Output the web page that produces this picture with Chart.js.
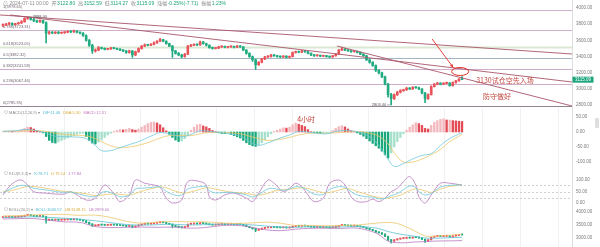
<!DOCTYPE html>
<html><head><meta charset="utf-8">
<script src="https://cdn.jsdelivr.net/npm/chart.js@4.4.1/dist/chart.umd.min.js"></script>
<style>
html,body{margin:0;padding:0;background:#fff;overflow:hidden}
#wrap{position:relative;width:600px;height:247px;background:#fff}
canvas{position:absolute;left:0}
#sb{position:absolute;left:595px;top:118px;width:4px;height:10px;background:#dedede;border-radius:1px}
</style></head><body>
<div id="wrap">
<canvas id="cMain" width="600" height="108" style="top:0px"></canvas>
<canvas id="cMacd" width="600" height="62" style="top:108px"></canvas>
<canvas id="cKdj" width="600" height="37" style="top:170px"></canvas>
<canvas id="cBoll" width="600" height="40" style="top:207px"></canvas>
<div id="sb"></div>
</div>
<script>
// ---------------- DATA ----------------
const openP = [3785,3790,3800,3810,3795,3805,3815,3830,3870,3880,
3860,3840,3830,3845,3820,3690,3700,3690,3700,3690,
3695,3700,3710,3705,3715,3700,3690,3660,3600,3540,
3470,3480,3510,3500,3490,3495,3505,3500,3490,3480,
3470,3450,3470,3420,3460,3500,3530,3545,3540,3550,
3570,3590,3610,3590,3560,3530,3470,3440,3420,3400,
3430,3530,3540,3550,3545,3580,3560,3540,3510,3500,
3505,3520,3525,3515,3520,3525,3515,3530,3520,3480,
3440,3400,3360,3300,3330,3370,3395,3400,3420,3410,
3400,3395,3405,3390,3400,3450,3460,3455,3470,3460,
3440,3420,3410,3415,3405,3410,3400,3395,3410,3430,
3480,3495,3480,3470,3460,3465,3450,3430,3410,3360,
3330,3290,3230,3200,3150,3060,2930,2880,2930,2960,
2980,2990,3010,3000,3020,3015,3000,2950,2880,2930,
3030,3060,3070,3060,3070,3075,3040,3080,3100,3122.80];
const highP = [3805,3812,3822,3818,3812,3825,3845,3880,3888,3884,
3870,3850,3855,3852,3828,3712,3710,3708,3710,3702,
3708,3720,3718,3728,3722,3706,3698,3668,3612,3552,
3495,3525,3518,3508,3502,3515,3512,3506,3498,3488,
3478,3480,3476,3468,3508,3538,3556,3550,3560,3582,
3598,3625,3615,3596,3566,3538,3478,3452,3430,3440,
3540,3552,3558,3556,3592,3588,3566,3546,3518,3512,
3528,3532,3530,3526,3534,3530,3538,3535,3524,3486,
3448,3408,3368,3338,3378,3402,3412,3428,3425,3416,
3408,3412,3412,3408,3458,3468,3466,3478,3476,3465,
3446,3428,3422,3420,3416,3415,3406,3416,3436,3490,
3512,3500,3486,3476,3472,3470,3456,3436,3416,3368,
3338,3298,3240,3210,3160,3070,2945,2940,2972,2992,
2998,3022,3018,3030,3028,3022,3006,2958,2940,3040,
3068,3082,3078,3078,3085,3080,3088,3108,3130,3152.59];
const lowP = [3770,3782,3792,3785,3786,3798,3808,3825,3860,3850,
3830,3818,3822,3810,3570,3675,3682,3682,3680,3684,
3686,3694,3695,3698,3692,3680,3650,3590,3525,3440,
3455,3472,3492,3482,3484,3488,3494,3484,3472,3460,
3440,3442,3390,3410,3452,3492,3522,3532,3534,3544,
3562,3584,3582,3552,3522,3390,3430,3410,3385,3392,
3425,3522,3534,3536,3538,3552,3530,3502,3492,3494,
3498,3512,3508,3508,3514,3506,3510,3512,3472,3430,
3390,3340,3240,3290,3322,3362,3386,3392,3402,3392,
3386,3388,3382,3384,3395,3442,3446,3448,3452,3432,
3412,3402,3404,3398,3398,3392,3386,3390,3404,3425,
3472,3474,3464,3452,3455,3444,3424,3402,3350,3318,
3280,3215,3185,3140,3050,2900,2803.40,2870,2918,2950,
2970,2982,2992,2994,3008,2992,2940,2830,2870,2925,
3024,3052,3050,3055,3062,3035,3036,3072,3095,3114.27];
const closeP = [3790,3800,3810,3795,3805,3815,3830,3870,3880,3860,
3840,3830,3845,3820,3690,3700,3690,3700,3690,3695,
3700,3710,3705,3715,3700,3690,3660,3600,3540,3470,
3480,3510,3500,3490,3495,3505,3500,3490,3480,3470,
3450,3470,3420,3460,3500,3530,3545,3540,3550,3570,
3590,3610,3590,3560,3530,3470,3440,3420,3400,3430,
3530,3540,3550,3545,3580,3560,3540,3510,3500,3505,
3520,3525,3515,3520,3525,3515,3530,3520,3480,3440,
3400,3360,3300,3330,3370,3395,3400,3420,3410,3400,
3395,3405,3390,3400,3450,3460,3455,3470,3460,3440,
3420,3410,3415,3405,3410,3400,3395,3410,3430,3480,
3495,3480,3470,3460,3465,3450,3430,3410,3360,3330,
3290,3230,3200,3150,3060,2930,2880,2930,2960,2980,
2990,3010,3000,3020,3015,3000,2950,2880,2930,3030,
3060,3070,3060,3070,3075,3040,3080,3100,3122.80,3115.09];
const lastTime = '2024-07-11 00:00';

const priceTicks = [4000,3800,3600,3400,3200,3000,2800];
const fibRatios = ['1','0.786','0.618','0.5','0.382','0.236','0'];
const fibValues = [3978.65,3723.31,3523.05,3382.32,3241.58,3067.46,2785.95];

// trend lines: [candle index, price] start -> end
const trendX1 = [-0.97, 2.27, 108.4];
const trendP1 = [3914, 3914, 3531];
const trendX2 = [184.7, 184.7, 184.7];
const trendP2 = [3432, 3086, 2790];
const arrowFrom = [139.3, 3617];
const arrowTo = [146.2, 3262];
const circleAt = [148.4, 3216];
const notes = ['3130试仓空先入场', '防守做好'];
const noteAt = [[153.6, 3111], [155.8, 2913]];
const periodNote = '4小时';
const periodNoteAt = [95.5, 43];

// MACD
const macdHist = [1,2,3,2,3,4,8,12,16,15,
10,5,2,-3,-15,-28,-35,-37,-33,-28,
-24,-20,-16,-12,-8,-5,-4,-15,-28,-37,
-40,-34,-26,-18,-10,-4,2,5,8,7,
9,12,8,6,10,16,22,28,32,33,
30,24,14,4,-8,-18,-27,-32,-30,-22,
-12,6,16,24,26,20,17,12,5,1,
-3,-5,-5,-4,-8,-12,-16,-20,-28,-36,
-42,-46,-48,-44,-36,-26,-16,-6,2,6,
10,14,13,16,24,30,26,22,18,8,
1,-2,-3,-4,-3,-2,-1,5,12,18,
21,17,10,4,1,-3,-8,-14,-22,-30,
-38,-46,-54,-64,-76,-87,-70,-50,-32,-18,
-6,6,16,24,31,28,22,12,10,22,
32,38,42,44,40,40,38,37,36,35];
const macdIdx = [0,4,7,10,14,17,22,27,30,32,35,38,41,44,48,51,54,58,61,64,67,72,77,80,83,86,90,93,96,100,105,109,113,116,119,122,125,127,130,133,136,139,142,145,149];
const difLine = [2,4,8,6,-4,-14,-16,-22,-45,-62,-62,-52,-42,-32,-14,-2,-6,-16,-8,4,2,-4,-14,-32,-44,-36,-20,-10,2,-2,-6,4,4,-2,-16,-45,-90,-115,-105,-90,-78,-72,-45,-22,-2];
const deaLine = [3,3,4,5,2,-4,-10,-13,-22,-32,-46,-52,-50,-44,-32,-20,-12,-12,-12,-6,-2,-2,-6,-14,-22,-28,-24,-18,-10,-4,-4,-2,1,1,-4,-14,-40,-70,-100,-100,-90,-76,-58,-32,-8];
const macdTicks = [50,0,-50,-100];

// KDJ
const kdjIdx = [0,2,4,6,8,10,14,17,20,22,27,30,33,36,38,41,43,46,49,51,53,55,58,60,64,66,67,69,72,75,79,81,83,86,88,91,93,95,97,99,101,104,106,109,111,113,115,118,120,122,124,126,128,130,132,134,135,137,139,142,145,149];
const kLine = [45,58,70,77,74,64,57,50,46,48,31,28,50,40,27,34,61,65,69,70,51,37,34,61,71,70,53,44,46,45,35,26,37,61,63,55,61,71,68,54,39,37,59,71,68,49,35,27,26,18,20,32,41,58,74,67,49,35,42,69,77,78.71];
const dLine = [50,52,58,66,72,72,64,56,50,48,40,32,36,40,38,34,42,55,65,70,66,56,44,45,60,66,66,60,52,46,42,36,34,42,52,58,60,63,66,63,55,45,46,56,63,60,50,38,30,24,20,24,30,40,54,62,60,53,46,60,72,79.14];
const jLine = [35,71,93,100,78,49,43,39,39,49,13,21,78,40,6,35,100,86,78,69,21,0,13,93,93,78,27,13,35,43,21,6,43,100,86,49,64,86,71,35,6,21,85,100,78,27,6,6,17,6,21,49,64,93,115,78,27,0,35,86,86,77.84];
const kdjTicks = [100,50,0];
const kdjLevels = [80,50,20];

// BOLL
const bollIdx = [0,5,10,15,20,25,30,35,40,45,50,55,60,65,70,75,80,85,90,95,100,105,110,115,120,122,125,128,131,134,137,140,145,149];
const bollMid = [3790,3800,3815,3790,3760,3720,3660,3590,3520,3495,3510,3530,3500,3510,3530,3525,3510,3465,3420,3410,3430,3420,3425,3440,3400,3360,3250,3170,3110,3060,3000,2990,3010,3030.57];
const bollUp = [3850,3860,3885,3905,3905,3870,3880,3790,3640,3570,3610,3640,3620,3625,3590,3560,3575,3610,3570,3480,3485,3470,3485,3500,3560,3580,3600,3560,3420,3250,3080,3070,3110,3148.15];
const bollLow = [3730,3745,3750,3680,3620,3600,3440,3400,3410,3420,3410,3420,3380,3395,3465,3490,3430,3320,3280,3340,3375,3375,3370,3380,3240,3130,2880,2820,2820,2850,2860,2880,2890,2899.00];
const bollTicks = [4000,3500,3000];

// ---------------- STYLE ----------------
const FONT = '"Liberation Sans", "Noto Sans CJK SC", Arial, sans-serif';
const CJK = '"Noto Sans CJK SC", sans-serif';
const UP = '#e8545a', DOWN = '#22ab80';
const GRAY = '#8a8a8a';
const fibColors = ['#cdb0cd','#cdb0cd','#dbe8d2','#a4b5c2','#d0adcb','#d0adcb','#928493'];
const fibWidths = [1,1,2,1,1,1,1];
const X_MIN = -0.97, X_MAX = 184.7;
const vGridStart = 7.5, vGridStep = 12.34;
const N = closeP.length;
const idxs = closeP.map((_, i) => i);

function line(ctx, x1, y1, x2, y2){ ctx.beginPath(); ctx.moveTo(x1,y1); ctx.lineTo(x2,y2); ctx.stroke(); }
function drawSegs(ctx, x, y, segs, size){
  ctx.font = size + 'px ' + FONT; ctx.textBaseline = 'middle'; ctx.textAlign = 'left';
  segs.forEach(s => { ctx.fillStyle = s[1]; ctx.fillText(s[0], x, y); x += ctx.measureText(s[0]).width + (s[2] === undefined ? 2 : s[2]); });
}
const candleColor = c => closeP[c.dataIndex] >= openP[c.dataIndex] ? UP : DOWN;

function baseOptions(yMin, yMax, yTicks){
  return {
    responsive:false, animation:false, devicePixelRatio:1,
    layout:{padding:0},
    plugins:{legend:{display:false}, tooltip:{enabled:false}},
    scales:{
      x:{type:'linear', min:X_MIN, max:X_MAX, offset:false, display:false},
      y:{type:'linear', position:'right', min:yMin, max:yMax,
        afterBuildTicks: s => { s.ticks = yTicks.map(v => ({value:v})); },
        afterFit: s => { s.width = 28; s.paddingTop = 0; s.paddingBottom = 0; },
        grid:{display:false, drawTicks:false},
        border:{display:true, color:'#dddddd', width:1},
        ticks:{autoSkip:false, padding:4, color:'#7a7a7a', font:{family:FONT, size:4.5}, callback: v => Number(v).toFixed(2)}
      }
    }
  };
}
function candleSets(body, wick){
  return [
    {type:'bar', data: idxs.map(i => ({x:i, y:[lowP[i], highP[i]]})), backgroundColor:candleColor, barThickness:wick, grouped:false, order:2},
    {type:'bar', data: idxs.map(i => ({x:i, y:[openP[i], closeP[i]]})), backgroundColor:candleColor, barThickness:body, minBarLength:1, grouped:false, order:1}
  ];
}
function panelPlugin(name, header, headerY, levels){
  return {
    id:'panel_' + name,
    beforeDatasetsDraw(chart){
      const {ctx, chartArea:a, scales:{x, y}} = chart;
      ctx.save(); ctx.lineWidth = 1; ctx.strokeStyle = '#f1f1f1';
      for (let v = vGridStart; v <= X_MAX; v += vGridStep){
        const px = Math.round(x.getPixelForValue(v)) + 0.5; line(ctx, px, a.top, px, a.bottom);
      }
      ctx.strokeStyle = '#cfcfcf'; ctx.setLineDash([2,2]);
      (levels || []).forEach(v => { const py = Math.round(y.getPixelForValue(v)) + 0.5; line(ctx, a.left, py, a.right, py); });
      ctx.restore();
    },
    afterDraw(chart){ chart.ctx.save(); drawSegs(chart.ctx, 4, headerY, header, 4); chart.ctx.restore(); }
  };
}

// ---------------- MAIN PRICE PANEL ----------------
const mainDecor = {
  id:'mainDecor',
  beforeDatasetsDraw(chart){
    const {ctx, chartArea:a, scales:{y}} = chart;
    ctx.save();
    fibValues.forEach((v, k) => {
      const py = Math.round(y.getPixelForValue(v)) + 0.5;
      ctx.strokeStyle = fibColors[k]; ctx.lineWidth = fibWidths[k];
      line(ctx, a.left, py, a.right, py);
      ctx.fillStyle = '#6f626f'; ctx.font = '4px ' + FONT; ctx.textBaseline = 'alphabetic'; ctx.textAlign = 'left';
      ctx.fillText(fibRatios[k] + '(' + v.toFixed(2) + ')', 3, py - 2.5);
    });
    ctx.restore();
  },
  afterDatasetsDraw(chart){
    const {ctx, chartArea:a, scales:{x, y}} = chart;
    ctx.save();
    ctx.beginPath(); ctx.rect(a.left, a.top, a.right - a.left, a.bottom - a.top); ctx.clip();
    ctx.strokeStyle = '#a8566a'; ctx.lineWidth = 0.9;
    trendX1.forEach((_, k) => line(ctx, x.getPixelForValue(trendX1[k]), y.getPixelForValue(trendP1[k]), x.getPixelForValue(trendX2[k]), y.getPixelForValue(trendP2[k])));
    // arrow
    const ax1 = x.getPixelForValue(arrowFrom[0]), ay1 = y.getPixelForValue(arrowFrom[1]);
    const ax2 = x.getPixelForValue(arrowTo[0]), ay2 = y.getPixelForValue(arrowTo[1]);
    ctx.strokeStyle = '#e2332b'; ctx.fillStyle = '#e2332b'; ctx.lineWidth = 0.9;
    line(ctx, ax1, ay1, ax2, ay2);
    const ang = Math.atan2(ay2 - ay1, ax2 - ax1);
    ctx.beginPath(); ctx.moveTo(ax2, ay2);
    ctx.lineTo(ax2 - 4 * Math.cos(ang - 0.4), ay2 - 4 * Math.sin(ang - 0.4));
    ctx.lineTo(ax2 - 4 * Math.cos(ang + 0.4), ay2 - 4 * Math.sin(ang + 0.4));
    ctx.closePath(); ctx.fill();
    // circle
    ctx.lineWidth = 1;
    ctx.beginPath(); ctx.ellipse(x.getPixelForValue(circleAt[0]), y.getPixelForValue(circleAt[1]), 8.5, 4, 0, 0, Math.PI * 2); ctx.stroke();
    // notes
    ctx.fillStyle = '#c4463f'; ctx.font = '7px ' + CJK; ctx.textBaseline = 'middle'; ctx.textAlign = 'left';
    notes.forEach((t, k) => ctx.fillText(t, x.getPixelForValue(noteAt[k][0]), y.getPixelForValue(noteAt[k][1])));
    // high / low marks
    let hi = 0, lo = 0;
    idxs.forEach(i => { if (highP[i] > highP[hi]) hi = i; if (lowP[i] < lowP[lo]) lo = i; });
    ctx.fillStyle = '#555'; ctx.strokeStyle = '#777'; ctx.lineWidth = 0.6; ctx.font = '4px ' + FONT;
    let px = x.getPixelForValue(hi), py = y.getPixelForValue(highP[hi]);
    line(ctx, px + 1, py, px + 4, py); ctx.fillText(highP[hi].toFixed(2), px + 5, py);
    px = x.getPixelForValue(lo); py = y.getPixelForValue(lowP[lo]);
    line(ctx, px - 4, py, px - 1, py); ctx.textAlign = 'right'; ctx.fillText(lowP[lo].toFixed(2), px - 5, py);
    ctx.restore();
    // last price box
    ctx.save();
    const cy = y.getPixelForValue(closeP[N - 1]);
    ctx.fillStyle = '#1ba57b'; ctx.fillRect(a.right + 0.5, cy - 3, 21, 6);
    ctx.fillStyle = '#fff'; ctx.font = '4.5px ' + FONT; ctx.textBaseline = 'middle'; ctx.textAlign = 'left';
    ctx.fillText(closeP[N - 1].toFixed(2), a.right + 3, cy + 0.3);
    ctx.restore();
  },
  afterDraw(chart){
    const ctx = chart.ctx; ctx.save();
    const o = openP[N-1], h = highP[N-1], l = lowP[N-1], c = closeP[N-1], pc = closeP[N-2];
    const chg = c - pc, pct = chg / pc * 100, amp = (h - l) / pc * 100;
    const G = '#1ba57b';
    drawSegs(ctx, 3, 3.6, [
      ['⊙', GRAY, 1.5], [lastTime, GRAY, 3],
      ['开', GRAY, 0.5], [o.toFixed(2), G, 3], ['高', GRAY, 0.5], [h.toFixed(2), G, 3],
      ['低', GRAY, 0.5], [l.toFixed(2), G, 3], ['收', GRAY, 0.5], [c.toFixed(2), G, 3],
      ['涨幅', GRAY, 0.5], [pct.toFixed(2) + '%(' + chg.toFixed(2) + ')', G, 3],
      ['振幅', GRAY, 0.5], [amp.toFixed(2) + '%', G, 3]
    ], 5);
    ctx.restore();
  }
};
new Chart(document.getElementById('cMain'), {
  type:'bar',
  data:{datasets: candleSets(2, 1)},
  options: baseOptions(2765.2, 4098.8, priceTicks),
  plugins:[mainDecor]
});

// ---------------- MACD PANEL ----------------
function histColor(c){
  const i = c.dataIndex, v = macdHist[i], p = i > 0 ? macdHist[i-1] : 0;
  if (v >= 0) return v >= p ? '#f3b8bd' : '#e44c55';
  return v <= p ? '#1aa97c' : '#a6e0cb';
}
const macdNote = {
  id:'macdNote',
  afterDatasetsDraw(chart){
    const {ctx, scales:{x, y}} = chart; ctx.save();
    ctx.fillStyle = '#c4463f'; ctx.font = '7px ' + CJK; ctx.textBaseline = 'middle'; ctx.textAlign = 'left';
    ctx.fillText(periodNote, x.getPixelForValue(periodNoteAt[0]), y.getPixelForValue(periodNoteAt[1]));
    ctx.restore();
  }
};
new Chart(document.getElementById('cMacd'), {
  type:'bar',
  data:{datasets:[
    {type:'line', data: macdIdx.map((v,k) => ({x:v, y:difLine[k]})), borderColor:'#6fc8da', borderWidth:0.8, pointRadius:0, tension:0.4, order:0},
    {type:'line', data: macdIdx.map((v,k) => ({x:v, y:deaLine[k]})), borderColor:'#ebc76a', borderWidth:0.8, pointRadius:0, tension:0.4, order:0},
    {type:'bar', data: macdHist.map((v,i) => ({x:i, y:v})), backgroundColor:histColor, barThickness:1.7, grouped:false, order:1}
  ]},
  options: baseOptions(-126.67, 80, macdTicks),
  plugins:[panelPlugin('macd', [['⊙ MACD(12,26,9) ▾', GRAY, 3], ['DIF:11.46', '#4fb9cf', 3], ['DEA:5.30', '#d9ad3c', 3], ['MACD:12.31', '#c77cbf', 3]], 5, null), macdNote]
});

// ---------------- KDJ PANEL ----------------
const kdjLine = (arr, col) => ({type:'line', data: kdjIdx.map((v,k) => ({x:v, y:arr[k]})), borderColor:col, borderWidth:0.8, pointRadius:0, tension:0.35});
new Chart(document.getElementById('cKdj'), {
  type:'line',
  data:{datasets:[kdjLine(kLine, '#6fc8da'), kdjLine(dLine, '#ebc76a'), kdjLine(jLine, '#b979bf')]},
  options: baseOptions(-17.4, 143.5, kdjTicks),
  plugins:[panelPlugin('kdj', [['⊙ KDJ(9,3,3) ▾', GRAY, 3], ['K:78.71', '#4fb9cf', 3], ['D:79.14', '#d9ad3c', 3], ['J:77.84', '#b979bf', 3]], 3.5, kdjLevels)]
});

// ---------------- BOLL PANEL ----------------
const bollLine = (arr, col) => ({type:'line', data: bollIdx.map((v,k) => ({x:v, y:arr[k]})), borderColor:col, borderWidth:0.8, pointRadius:0, tension:0.35, order:0});
new Chart(document.getElementById('cBoll'), {
  type:'bar',
  data:{datasets:[bollLine(bollUp, '#ebc76a'), bollLine(bollMid, '#5cc0d2'), bollLine(bollLow, '#b979bf')].concat(candleSets(1.5, 0.8))},
  options: baseOptions(2653.8, 4192.3, bollTicks),
  plugins:[panelPlugin('boll', [['⊙ BOLL(20,2) ▾', GRAY, 3], ['BOLL:3030.57', '#4fb9cf', 3], ['UB:3148.15', '#d9ad3c', 3], ['LB:2899.00', '#b979bf', 3]], 3, null)]
});
</script>
</body></html>
